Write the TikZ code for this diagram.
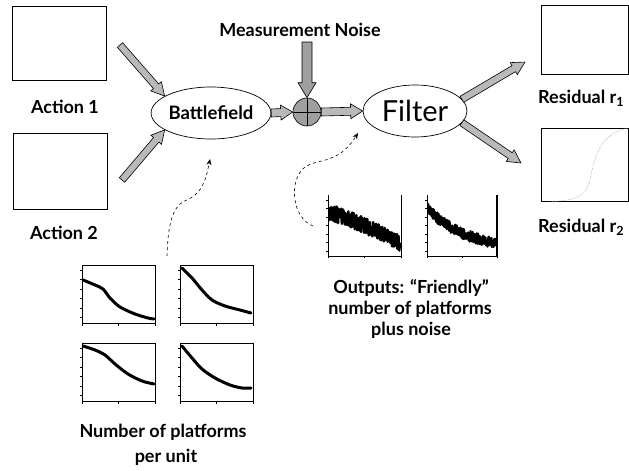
\documentclass[tikz,border=0pt]{standalone}
\usepackage{fontspec}
\setmainfont{Lato}
\usetikzlibrary{shapes.geometric,arrows.meta,calc}
\newcommand\fatarrow[5]{%
  \path[fatfill] let \p1=(#1), \p2=(#2), \n1={atan2(\y2-\y1,\x2-\x1)}, \n2={veclen(\x2-\x1,\y2-\y1)} in
    [shift={(\p1)}, rotate=\n1] (0,-#3) -- ({\n2-#5},-#3) -- ({\n2-#5},-#4) -- ({\n2},0) -- ({\n2-#5},#4) -- ({\n2-#5},#3) -- (0,#3) -- cycle;}
\begin{document}
\begin{tikzpicture}[x=1pt,y=-1pt,
  lab/.style={font=\bfseries\fontsize{18}{21}\selectfont, inner sep=0},
  box/.style={draw=black, line width=0.8pt},
  ell/.style={draw, ellipse, line width=0.7pt, minimum width=104pt, minimum height=52pt, inner sep=0},
  curvearrow/.style={dashed, line width=0.6pt, -{Stealth[length=6pt,width=5pt]}},
  fatfill/.style={fill=gray!55, draw=black, line width=0.6pt},
  darkfill/.style={fill=gray!75, draw=black, line width=0.6pt},
  plotframe/.style={draw=black, line width=0.6pt},
  thickcurve/.style={line width=3pt, line cap=round, line join=round},
]
\useasboundingbox (0,0) rectangle (629,471);
\clip (0,0) rectangle (629,471);
\fill[white] (0,0) rectangle (629,471);

% action boxes
\node[box, minimum width=94pt, minimum height=74pt, inner sep=0] (a1box) at (59,43) {};
\node[box, minimum width=94pt, minimum height=76pt, inner sep=0] (a2box) at (60,171) {};
\node[lab] (a1) at (65,107) {Action 1};
\node[lab] (a2) at (64,233) {Action 2};

% residual boxes
\node[box, minimum width=87pt, minimum height=69pt, inner sep=0] (r1box) at (584.5,39.5) {};
\node[box, minimum width=87pt, minimum height=73pt, inner sep=0] (r2box) at (584.5,164.5) {};
\draw[gray!70, densely dotted, line width=0.6pt] (549,202) .. controls (575,200) and (585,198) .. (590,180)
  .. controls (595,155) and (600,135) .. (627,128);
\node[lab, anchor=west] (r1) at (538,98) {Residual r\textsubscript{1}};
\node[lab, anchor=west] (r2) at (538,227) {Residual r\textsubscript{2}};

% main nodes
\node[ell, font=\bfseries\fontsize{18.5}{20}\selectfont] (bf) at (211,113) {Battlefield};
\node[ell, font=\fontsize{29}{31}\selectfont] (filter) at (415,111) {Filter};
\node[circle, darkfill, minimum size=28pt, inner sep=0] (sum) at (307,112) {};
\draw[black, line width=0.7pt] (sum.north) -- (sum.south) (sum.west) -- (sum.east);
\node[lab] (noise) at (300,30) {Measurement Noise};

% fat arrows
\coordinate (a1s) at (120,45);
\coordinate (a2s) at (122,180);
\coordinate (ns) at (307,42);
\coordinate (r1e) at (525,62);
\coordinate (r2e) at (521,163);
\fatarrow{a1s}{bf.160}{3.5}{7}{13}
\fatarrow{a2s}{bf.200}{3.5}{7}{13}
\fatarrow{bf.east}{sum.west}{4}{7.5}{12}
\fatarrow{sum.east}{filter.west}{4}{7.5}{12}
\path[darkfill] let \p1=(ns), \p2=(sum.north) in
  (\x1-5pt,\y1) -- (\x1+5pt,\y1) -- (\x1+5pt,\y2+15pt) -- (\x1+9pt,\y2+15pt) -- (\x2,\y2) -- (\x1-9pt,\y2+15pt) -- (\x1-5pt,\y2+15pt) -- cycle;
\fatarrow{filter.14}{r1e}{3.5}{7}{13}
\fatarrow{filter.-14}{r2e}{3.5}{7}{13}

% dashed curved arrows
\coordinate (c1s) at (167,256);
\coordinate (c1e) at (210,159);
\draw[curvearrow] (c1s) .. controls (168,225) and (172,205) .. (187,200)
  .. controls (200,194) and (205,185) .. (c1e);
\coordinate (c2s) at (313,226);
\coordinate (c2e) at (358,133);
\draw[curvearrow] (c2s) .. controls (292,218) and (288,180) .. (305,167)
  .. controls (318,158) and (338,165) .. (c2e);

% four small plots
\foreach \px/\py [count=\i] in {82/265, 180/265, 82/343, 180/343} {
  \draw[plotframe] (\px,\py) rectangle ++(73,58);
  \foreach \k in {0,...,5} \draw[line width=0.8pt] (\px,\py+5+9.5*\k) -- ++(-2,0);
  \foreach \k in {0,1,2} \draw[line width=0.8pt] (\px+36.5*\k,\py+58) -- ++(0,3);
}
\draw[thickcurve] plot[smooth] coordinates {(83,280) (95,285) (103,289) (110,298) (120,307) (135,314) (148,318) (154,319)};
\draw[thickcurve] plot[smooth] coordinates {(182,268) (192,278) (202,290) (212,300) (225,306) (240,310) (251,313)};
\draw[thickcurve] plot[smooth] coordinates {(83,346) (95,350) (105,355) (115,364) (128,374) (142,381) (154,384)};
\draw[thickcurve] plot[smooth] coordinates {(182,346) (192,358) (202,369) (215,378) (230,385) (242,388) (251,388)};
\node[lab] (np1) at (163,432) {Number of platforms};
\node[lab] (np2) at (166,457) {per unit};

% outputs text
\node[lab] (o1) at (411,288) {Outputs: “Friendly”};
\node[lab] (o2) at (410,309) {number of platforms};
\node[lab] (o3) at (411,330) {plus noise};

% noisy output plots
\pgfmathsetseed{7}
\draw[plotframe] (328,195) -- (328,256) -- (401,256) -- (401,195);
\draw[plotframe] (427,195) -- (427,256) -- (497,256) -- (497,195);
\draw[line width=1.2pt] (497,195) -- (497,256);
\foreach \k in {0,...,6} {\draw[line width=0.7pt] (328,200+8.5*\k) -- ++(-2,0); \draw[line width=0.7pt] (427,200+8.5*\k) -- ++(-2,0);}
\foreach \k in {0,1,2} {\draw[line width=0.7pt] (328+36.5*\k,256) -- ++(0,2); \draw[line width=0.7pt] (427+35*\k,256) -- ++(0,2);}
\clip (328,195) rectangle (401,256) (427,195) rectangle (497,256);
\draw[line width=2.4pt, line join=round] plot[domain=0:1, samples=320, variable=\t] ({329+71*\t},{212+31*\t - 8*\t*(1-\t) + 8*rand});
\draw[line width=2.2pt, line join=round] plot[domain=0:1, samples=300, variable=\t] ({428+68*\t},{209+34*(1-exp(-1.8*\t))/(1-exp(-1.8)) + 5.5*rand});
\end{tikzpicture}
\end{document}
